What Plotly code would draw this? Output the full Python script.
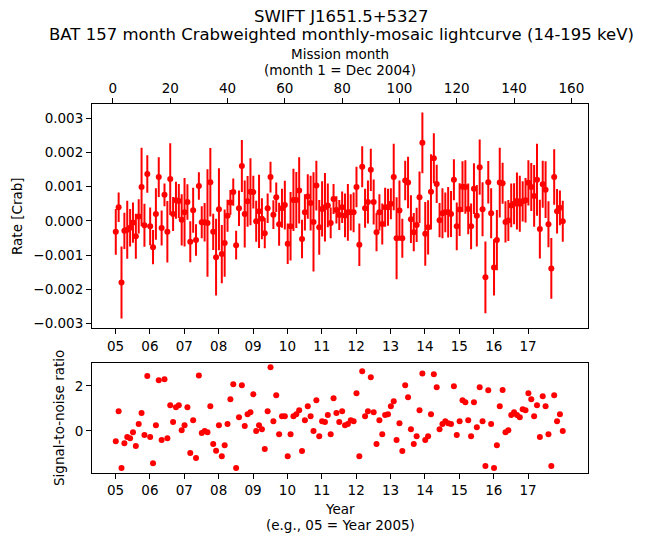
import plotly.graph_objects as go

# ---- data ----
months = list(range(1, 158))

rate_mcrab = [
    -0.32, 0.40, -1.80, -0.29, -0.26, -0.20, -0.05, -0.45, 0.13, 0.99,
    -0.13, 1.37, -0.16, -0.77, 0.20, 1.28, -0.21, 0.76, -0.32, 1.22,
    0.20, 0.60, 0.58, 0.03, 0.25, 0.55, -0.61, 0.31, -0.56, 1.02,
    -0.04, -0.04, -0.06, 1.13, -0.32, -1.06, 0.34, -0.97, -0.65, 0.15,
    0.54, 0.84, -0.71, 0.37, 1.60, 0.20, 0.57, 0.85, 0.84, -0.01,
    0.28, 0.06, -0.36, 0.37, 1.28, 0.18, 0.69, -0.10, 0.37, 0.46,
    -0.67, -0.16, 0.61, 0.61, 0.89, -0.53, 0.25, 0.71, 0.52, -0.03,
    1.03, -0.19, 0.35, 0.40, 0.45, -0.06, 0.64, 0.32, 0.17, 0.40,
    0.16, 0.25, 0.25, 0.25, 0.99, -0.70, 1.58, 0.37, 0.55, 1.49,
    0.55, -0.33, 0.25, -0.09, 0.40, 0.40, 0.50, 1.28, -0.51, 0.30,
    -0.51, 1.18, 1.12, 0.05, -0.33, -0.12, 0.69, 2.28, -0.38, -0.19,
    0.85, 1.83, 1.08, 0.02, 0.22, 0.25, 0.25, 0.20, 1.20, -0.16,
    0.33, 1.00, 0.99, 0.35, -0.16, 0.94, 0.15, 1.57, 0.34, -1.65,
    1.13, 0.22, -1.36, -0.56, 1.12, 1.10, -0.03, 0.01, 0.45, 0.50,
    0.58, 0.50, 0.57, 0.60, 1.11, 0.99, 0.73, 1.20, -0.24, 1.07,
    0.91, -0.10, -1.39, 1.28, 0.28, 0.38, -0.01,
]

err_mcrab = [
    0.67, 0.43, 1.05, 0.53, 0.85, 0.55, 0.59, 0.66, 0.50, 1.15,
    0.63, 0.55, 0.55, 0.50, 0.75, 0.58, 0.51, 0.33, 0.90, 1.05,
    0.50, 0.54, 0.50, 0.75, 1.00, 0.52, 0.60, 0.66, 0.46, 0.40,
    0.47, 0.56, 1.57, 1.00, 0.53, 1.12, 1.20, 0.85, 0.98, 0.47,
    0.36, 0.40, 0.42, 0.52, 0.76, 0.98, 0.74, 0.98, 0.48, 0.60,
    1.07, 0.60, 0.44, 0.43, 0.45, 0.42, 0.43, 0.63, 0.57, 0.71,
    0.59, 1.00, 0.91, 0.82, 0.97, 0.56, 0.53, 0.65, 0.80, 1.45,
    0.73, 0.80, 0.81, 1.00, 0.64, 0.45, 0.44, 0.40, 0.44, 0.46,
    0.64, 0.83, 0.53, 0.58, 0.59, 0.62, 0.60, 0.57, 0.63, 0.62,
    0.66, 0.56, 0.53, 0.60, 0.57, 0.54, 0.45, 0.97, 1.20, 0.88,
    0.57, 0.58, 0.75, 0.70, 0.56, 0.50, 0.75, 0.89, 0.93, 0.79,
    1.10, 0.73, 0.56, 0.50, 0.73, 0.58, 0.74, 0.67, 0.60, 0.70,
    0.77, 0.74, 0.78, 0.74, 0.67, 0.74, 0.90, 0.81, 0.79, 1.05,
    0.62, 0.73, 0.82, 0.88, 1.02, 0.60, 0.60, 0.60, 0.64, 0.60,
    0.83, 0.82, 0.59, 0.65, 0.66, 0.70, 0.90, 1.05, 0.86, 0.69,
    0.83, 0.67, 0.89, 0.81, 0.65, 0.51, 0.60,
]

snr = [
    -0.46, 0.87, -1.66, -0.55, -0.28, -0.33, -0.06, -0.68, 0.30, 0.79,
    -0.19, 2.44, -0.28, -1.44, 0.25, 2.25, -0.41, 2.30, -0.33, 1.14,
    0.39, 1.05, 1.14, 0.03, 0.25, 1.05, -0.99, 0.47, -1.21, 2.47,
    -0.10, -0.01, -0.06, 1.10, -0.59, -0.89, 0.25, -1.13, -0.64, 0.30,
    1.41, 2.07, -1.66, 0.61, 2.03, 0.21, 0.74, 0.83, 1.63, -0.01,
    0.25, 0.07, -0.81, 0.87, 2.83, 0.43, 1.59, -0.15, 0.65, 0.65,
    -1.13, -0.15, 0.65, 0.74, 0.92, -0.90, 0.47, 1.10, 0.65, -0.01,
    1.36, -0.24, 0.43, 0.39, 0.70, -0.15, 1.45, 0.79, 0.39, 0.87,
    0.25, 0.30, 0.47, 0.43, 1.67, -1.13, 2.65, 0.65, 0.87, 2.39,
    0.83, -0.59, 0.47, -0.15, 0.70, 0.74, 1.10, 1.32, -0.41, 0.34,
    -0.90, 2.03, 1.50, 0.07, -0.59, -0.24, 0.92, 2.56, -0.41, -0.24,
    0.74, 2.52, 1.94, 0.07, 0.30, 0.43, 0.34, 0.30, 1.99, -0.19,
    0.43, 1.36, 1.27, 0.47, -0.24, 1.27, 0.16, 1.94, 0.43, -1.57,
    1.81, 0.30, -1.66, -0.64, 1.10, 1.82, -0.06, 0.03, 0.70, 0.83,
    0.70, 0.61, 0.96, 0.92, 1.67, 1.41, 0.65, 1.14, -0.28, 1.54,
    1.10, -0.15, -1.57, 1.59, 0.43, 0.74, -0.01,
]

year_labels = ["05", "06", "07", "08", "09", "10", "11", "12", "13", "14", "15", "16", "17"]
year_tick_months = [0.9, 12.9, 24.9, 36.9, 48.9, 60.9, 72.9, 84.9, 96.9, 108.9, 120.9, 132.9, 144.9]
month_ticks = [0, 20, 40, 60, 80, 100, 120, 140, 160]

rate = [v * 1e-3 for v in rate_mcrab]
err = [v * 1e-3 for v in err_mcrab]

# ---- figure ----
FONT = "DejaVu Sans"
TICKSZ = 13.5
xr = [-7.3, 165.8]

fig = go.Figure()
fig.add_trace(go.Scatter(
    x=months, y=rate, mode="markers",
    marker=dict(color="red", size=6),
    error_y=dict(type="data", array=err, color="red", thickness=2, width=0),
    xaxis="x", yaxis="y", showlegend=False, hoverinfo="skip"))
# invisible trace to carry the top (mission month) axis
fig.add_trace(go.Scatter(
    x=months, y=rate, mode="markers", marker=dict(opacity=0),
    xaxis="x3", yaxis="y", showlegend=False, hoverinfo="skip"))
fig.add_trace(go.Scatter(
    x=months, y=snr, mode="markers",
    marker=dict(color="red", size=6),
    xaxis="x2", yaxis="y2", showlegend=False, hoverinfo="skip"))

axis_common = dict(showgrid=False, zeroline=False, showline=True, linecolor="black",
                   linewidth=1, ticks="outside", ticklen=5, tickcolor="black",
                   automargin=False,
                   tickfont=dict(family=FONT, size=TICKSZ, color="black"))

H_TOP, H_BOT = 104, 473
ph = H_BOT - H_TOP
def py(ypix):
    return (H_BOT - ypix) / ph

fig.update_layout(
    width=646, height=543,
    margin=dict(l=92, r=58, t=H_TOP, b=543 - H_BOT, pad=0),
    paper_bgcolor="white", plot_bgcolor="white",
    font=dict(family=FONT, color="black"),
    xaxis=dict(axis_common, range=xr, anchor="y", tickvals=year_tick_months,
               ticktext=year_labels, mirror=False),
    xaxis3=dict(axis_common, range=xr, anchor="y", overlaying="x", side="top",
                tickvals=month_ticks, ticktext=[str(m) for m in month_ticks]),
    yaxis=dict(axis_common, domain=[py(328.3), 1], range=[-3.14e-3, 3.415e-3],
               tickvals=[-0.003, -0.002, -0.001, 0, 0.001, 0.002, 0.003],
               tickformat=".3f", mirror=True, anchor="x"),
    xaxis2=dict(axis_common, range=xr, anchor="y2", tickvals=year_tick_months,
                ticktext=year_labels, mirror=True),
    yaxis2=dict(axis_common, domain=[0, py(362.7)], range=[-1.88, 3.036],
                tickvals=[-2, 0, 2], mirror=True, anchor="x2"),
)

def ann(text, xpix, ypix, size, angle=0):
    fig.add_annotation(text=text, xref="paper", yref="paper",
                       x=(xpix - 92) / (588 - 92), y=py(ypix),
                       xanchor="center", yanchor="middle", showarrow=False,
                       textangle=angle, font=dict(family=FONT, size=size, color="black"))

ann("SWIFT J1651.5+5327", 341, 16, 16.5)
ann("BAT 157 month Crabweighted monthly-mosaic lightcurve (14-195 keV)", 341, 34, 16.5)
ann("Mission month", 340, 54, TICKSZ)
ann("(month 1 = Dec 2004)", 340, 70, TICKSZ)
ann("Rate [Crab]", 17, 216, TICKSZ, -90)
ann("Signal-to-noise ratio", 59, 418, TICKSZ, -90)
ann("Year", 340, 509, TICKSZ)
ann("(e.g., 05 = Year 2005)", 340, 525, TICKSZ)

fig.write_html("out.html", config={"displayModeBar": False},
               post_script="document.body.style.margin='0';document.body.style.overflow='hidden';")
